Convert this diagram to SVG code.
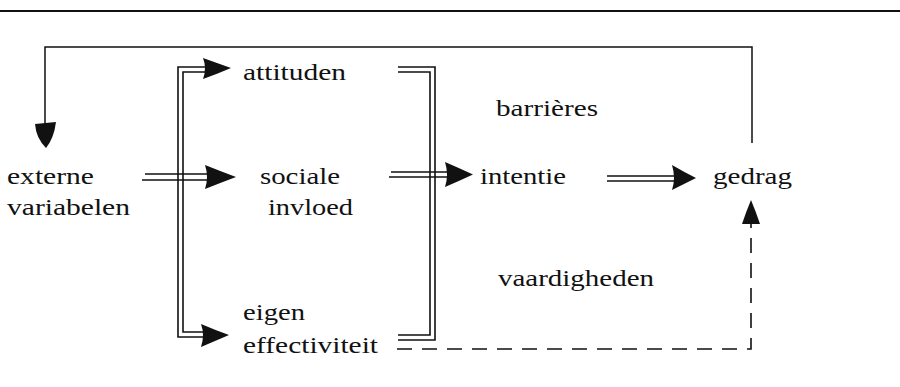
<svg xmlns="http://www.w3.org/2000/svg" width="900" height="387" viewBox="0 0 900 387">
<style>
  text { font-family: "Liberation Serif", "Times New Roman", serif; font-size: 24px; fill: #111; }
  .ln { fill: none; stroke: #111; stroke-width: 1.6; stroke-linejoin: miter; }
  .thin { fill: none; stroke: #111; stroke-width: 1.5; }
  .dash { fill: none; stroke: #111; stroke-width: 1.6; stroke-dasharray: 15 10; }
  .head { fill: #111; stroke: none; }
</style>
<rect width="900" height="387" fill="#fff"/>
<line x1="0" y1="11" x2="900" y2="11" stroke="#111" stroke-width="2"/>

<g id="connectors">
  <!-- feedback loop gedrag -> externe variabelen -->
  <path class="thin" d="M752,143 V47 H45 V125"/>
  <path class="head" d="M35,124 L56,122 Q54,138 46,148 Q36,138 35,124 Z"/>

  <!-- left double bracket to attituden / eigen effectiviteit -->
  <path class="ln" d="M205,67 H178 V337 H205"/>
  <path class="ln" d="M205,72 H183 V332 H205"/>
  <path class="head" d="M203,58 Q217,63 231,68 Q217,74 203,79 Q207,68 203,58 Z"/>
  <path class="head" d="M201,324 Q215,330 229,335 Q215,341 201,347 Q205,335 201,324 Z"/>

  <!-- externe -> sociale -->
  <path class="ln" d="M145,174 H208"/>
  <path class="ln" d="M142,180 H208"/>
  <path class="head" d="M205,165 Q220,171 236,177 Q220,183 205,189 Q209,177 205,165 Z"/>

  <!-- right double bracket -->
  <path class="ln" d="M398,67 H435 V340 H398"/>
  <path class="ln" d="M398,72 H430 V335 H398"/>

  <!-- sociale -> intentie -->
  <path class="ln" d="M391,172 H448"/>
  <path class="ln" d="M389,177 H448"/>
  <path class="head" d="M445,162 Q459,168 473,174.5 Q459,181 445,187 Q449,174.5 445,162 Z"/>

  <!-- intentie -> gedrag -->
  <path class="ln" d="M607,176 H675"/>
  <path class="ln" d="M607,181 H675"/>
  <path class="head" d="M672,165 Q684,172 696,178 Q684,184 672,190 Q676,178 672,165 Z"/>

  <!-- dashed: eigen effectiviteit -> gedrag -->
  <path class="dash" d="M397,349 H751 V224"/>
  <path class="head" d="M751,200 Q756,212 760,224 L742,224 Q746,212 751,200 Z"/>
</g>

<g id="externe-variabelen">
  <text x="7" y="184" textLength="87" lengthAdjust="spacingAndGlyphs">externe</text>
  <text x="7" y="215" textLength="123" lengthAdjust="spacingAndGlyphs">variabelen</text>
</g>
<g id="attituden">
  <text x="243" y="80" textLength="103" lengthAdjust="spacingAndGlyphs">attituden</text>
</g>
<g id="sociale-invloed">
  <text x="260" y="184" textLength="80" lengthAdjust="spacingAndGlyphs">sociale</text>
  <text x="268" y="215" textLength="85" lengthAdjust="spacingAndGlyphs">invloed</text>
</g>
<g id="eigen-effectiviteit">
  <text x="243" y="320" textLength="62" lengthAdjust="spacingAndGlyphs">eigen</text>
  <text x="243" y="353" textLength="135" lengthAdjust="spacingAndGlyphs">effectiviteit</text>
</g>
<g id="barrieres">
  <text x="496" y="116" textLength="102" lengthAdjust="spacingAndGlyphs">barrières</text>
</g>
<g id="intentie">
  <text x="480" y="184" textLength="86" lengthAdjust="spacingAndGlyphs">intentie</text>
</g>
<g id="gedrag">
  <text x="713" y="184" textLength="79" lengthAdjust="spacingAndGlyphs">gedrag</text>
</g>
<g id="vaardigheden">
  <text x="498" y="286" textLength="156" lengthAdjust="spacingAndGlyphs">vaardigheden</text>
</g>
</svg>
